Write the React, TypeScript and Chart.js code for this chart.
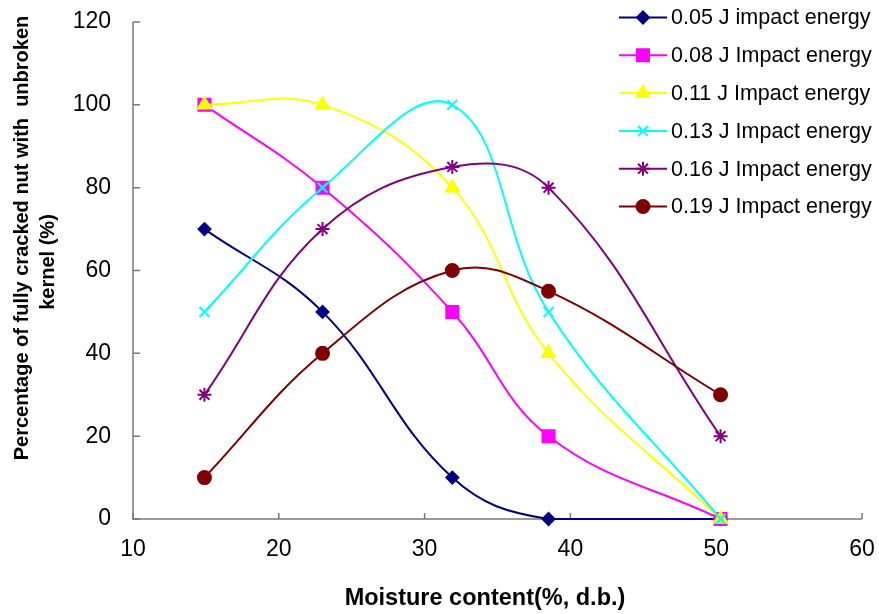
import React, { useEffect, useRef } from 'react';
import { Chart, registerables } from 'chart.js';
import { drawPoint } from 'chart.js/helpers';

Chart.register(...registerables);

const moisture = [14.9, 23.0, 31.9, 38.5, 50.3];

const seriesLabels = [
  '0.05 J impact energy',
  '0.08 J Impact energy',
  '0.11 J Impact energy',
  '0.13 J Impact energy',
  '0.16 J Impact energy',
  '0.19 J Impact energy',
];

const e005 = [70, 50, 10, 0, 0];
const e008 = [100, 80, 50, 20, 0];
const e011 = [100, 100, 80, 40, 0];
const e013 = [50, 80, 100, 50, 0];
const e016 = [30, 70, 85, 80, 20];
const e019 = [10, 40, 60, 55, 30];

const seriesValues = [e005, e008, e011, e013, e016, e019];

const colors = ['#000080', '#FF00FF', '#FFFF00', '#00FFFF', '#800080', '#800000'];
const pointStyles = ['rectRot', 'rect', 'triangle', 'crossRot', 'star', 'circle'];
const pointRadii = [6, 8.5, 7.5, 7, 7, 6.5];

const xTicks = [10, 20, 30, 40, 50, 60];
const yTicks = [0, 20, 40, 60, 80, 100, 120];

const xTitle = 'Moisture content(%, d.b.)';
const yTitleLines = ['Percentage of fully cracked nut with  unbroken', 'kernel (%)'];

const FONT = 'Arial, "Liberation Sans", sans-serif';
const AXIS_COLOR = '#787878';

const axesPlugin = {
  id: 'excelAxes',
  beforeDatasetsDraw(chart: any) {
    const { ctx, chartArea } = chart;
    const xs = chart.scales.x;
    const ys = chart.scales.y;
    ctx.save();
    ctx.strokeStyle = AXIS_COLOR;
    ctx.lineWidth = 1.5;
    ctx.beginPath();
    ctx.moveTo(chartArea.left, chartArea.top);
    ctx.lineTo(chartArea.left, chartArea.bottom);
    ctx.lineTo(chartArea.right, chartArea.bottom);
    ctx.stroke();
    ctx.beginPath();
    for (const v of yTicks) {
      const y = ys.getPixelForValue(v);
      ctx.moveTo(chartArea.left, y);
      ctx.lineTo(chartArea.left + 7, y);
    }
    for (const v of xTicks) {
      const x = xs.getPixelForValue(v);
      ctx.moveTo(x, chartArea.bottom);
      ctx.lineTo(x, chartArea.bottom - 6);
    }
    ctx.stroke();
    ctx.restore();
  },
  afterDraw(chart: any) {
    const { ctx } = chart;
    ctx.save();
    ctx.fillStyle = '#000';
    ctx.font = `bold 23.5px ${FONT}`;
    ctx.textAlign = 'center';
    ctx.textBaseline = 'middle';
    ctx.fillText(xTitle, 485, 599);

    ctx.font = `bold 20px ${FONT}`;
    const yPos = [
      [22, 238],
      [48, 262],
    ];
    yTitleLines.forEach((line, i) => {
      ctx.save();
      ctx.translate(yPos[i][0], yPos[i][1]);
      ctx.rotate(-Math.PI / 2);
      ctx.fillText(line, 0, 0);
      ctx.restore();
    });

    // legend
    ctx.font = `21.5px ${FONT}`;
    ctx.textAlign = 'left';
    seriesLabels.forEach((label, i) => {
      const y = 17.5 + i * 37.8;
      ctx.strokeStyle = colors[i];
      ctx.lineWidth = 2;
      ctx.beginPath();
      ctx.moveTo(619, y);
      ctx.lineTo(667, y);
      ctx.stroke();
      ctx.fillStyle = colors[i];
      ctx.strokeStyle = colors[i];
      ctx.lineWidth = 2;
      drawPoint(ctx, { pointStyle: pointStyles[i] as any, radius: pointRadii[i], borderWidth: 2, rotation: 0 }, 643, y);
      ctx.fillStyle = '#000';
      ctx.fillText(label, 671, y + 1);
    });
    ctx.restore();
  },
};

export default function App() {
  const ref = useRef<HTMLCanvasElement | null>(null);
  useEffect(() => {
    if (!ref.current) return;
    const chart = new Chart(ref.current, {
      type: 'line',
      data: {
        datasets: seriesValues.map((vals, i) => ({
          label: seriesLabels[i],
          data: vals.map((v, j) => ({ x: moisture[j], y: v })),
          borderColor: colors[i],
          backgroundColor: colors[i],
          pointBorderColor: colors[i],
          pointBackgroundColor: colors[i],
          pointStyle: pointStyles[i] as any,
          pointRadius: pointRadii[i],
          pointBorderWidth: 2,
          borderWidth: 2,
          tension: 0.4,
          fill: false,
          clip: false as any,
          order: 6 - i,
        })),
      },
      options: {
        responsive: false,
        animation: false,
        events: [],
        layout: { padding: { left: 0, top: 22, right: 17, bottom: 0 } },
        plugins: {
          legend: { display: false },
          tooltip: { enabled: false },
          title: { display: false },
        },
        scales: {
          x: {
            type: 'linear',
            min: 10,
            max: 60,
            grid: { display: false, drawTicks: false },
            border: { display: false },
            ticks: {
              stepSize: 10,
              padding: 17,
              color: '#000',
              font: { family: FONT, size: 23 },
              maxRotation: 0,
            },
            afterFit: (s: any) => {
              s.height = 95;
              s.paddingLeft = 0;
              s.paddingRight = 0;
            },
          },
          y: {
            type: 'linear',
            min: 0,
            max: 120,
            grid: { display: false, drawTicks: false },
            border: { display: false },
            ticks: {
              stepSize: 20,
              padding: 22,
              color: '#000',
              font: { family: FONT, size: 23 },
            },
            afterFit: (s: any) => {
              s.width = 133;
              s.paddingTop = 0;
              s.paddingBottom = 0;
            },
          },
        },
      },
      plugins: [axesPlugin],
    });
    return () => chart.destroy();
  }, []);
  return (
    <div style={{ position: 'absolute', left: 0, top: 0, width: 879, height: 614, background: '#fff' }}>
      <canvas ref={ref} width={879} height={614} style={{ display: 'block' }} />
    </div>
  );
}
